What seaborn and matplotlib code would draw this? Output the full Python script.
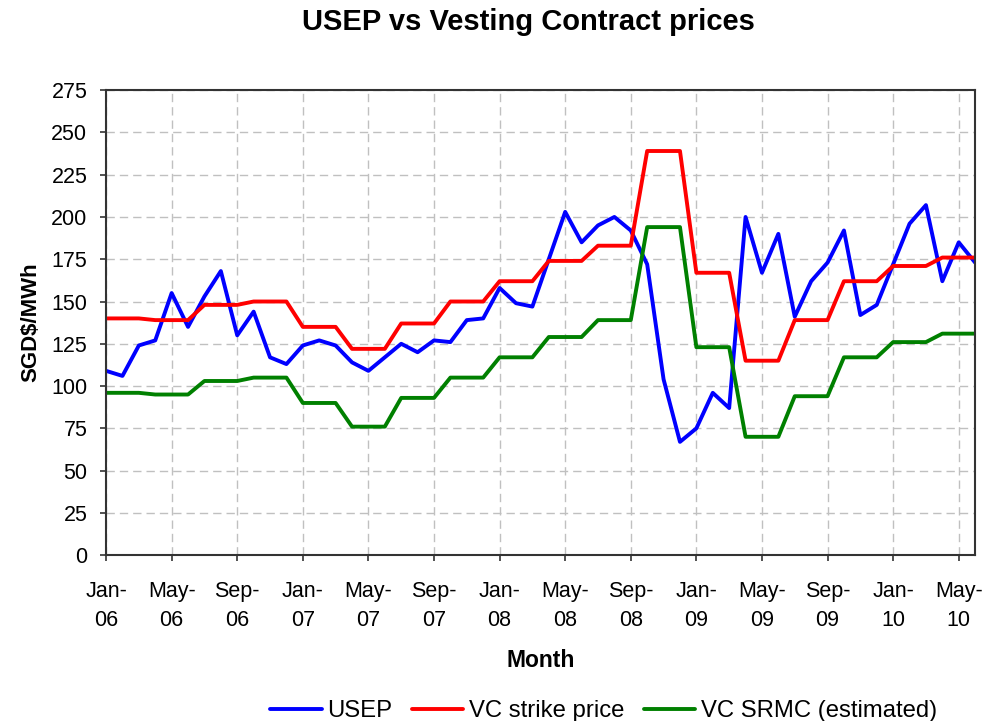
import numpy as np
import pandas as pd
import matplotlib
matplotlib.use("Agg")
import matplotlib.pyplot as plt
import seaborn as sns

# monthly data, Jan-06 .. Jun-10
months = pd.date_range("2006-01-01", "2010-06-01", freq="MS")

usep = [109, 106, 124, 127, 155, 135, 153, 168, 130, 144, 117, 113,
        124, 127, 124, 114, 109, 117, 125, 120, 127, 126, 139, 140,
        158, 149, 147, 175, 203, 185, 195, 200, 192, 172, 104, 67,
        75, 96, 87, 200, 167, 190, 141, 162, 173, 192, 142, 148,
        172, 196, 207, 162, 185, 173]

vc_strike = [140, 140, 140, 139, 139, 139, 148, 148, 148, 150, 150, 150,
             135, 135, 135, 122, 122, 122, 137, 137, 137, 150, 150, 150,
             162, 162, 162, 174, 174, 174, 183, 183, 183, 239, 239, 239,
             167, 167, 167, 115, 115, 115, 139, 139, 139, 162, 162, 162,
             171, 171, 171, 176, 176, 176]

vc_srmc = [96, 96, 96, 95, 95, 95, 103, 103, 103, 105, 105, 105,
           90, 90, 90, 76, 76, 76, 93, 93, 93, 105, 105, 105,
           117, 117, 117, 129, 129, 129, 139, 139, 139, 194, 194, 194,
           123, 123, 123, 70, 70, 70, 94, 94, 94, 117, 117, 117,
           126, 126, 126, 131, 131, 131]

series_names = ["USEP", "VC strike price", "VC SRMC (estimated)"]
colors = ["#0000ff", "#ff0000", "#008000"]

df = pd.DataFrame({"idx": np.arange(len(months)),
                   "USEP": usep,
                   "VC strike price": vc_strike,
                   "VC SRMC (estimated)": vc_srmc})
long_df = df.melt(id_vars="idx", var_name="series", value_name="price")

sns.set_style("white")
plt.rcParams['font.family'] = ['Liberation Sans', 'DejaVu Sans']
plt.rcParams['text.color'] = 'black'
plt.rcParams['axes.labelcolor'] = 'black'
plt.rcParams['xtick.color'] = 'black'
plt.rcParams['ytick.color'] = 'black'

fig = plt.figure(figsize=(9.82, 7.21), dpi=100)
ax = fig.add_axes([0.108, 0.230, 0.885, 0.645])

sns.lineplot(data=long_df, x="idx", y="price", hue="series",
             hue_order=series_names, palette=colors, linewidth=2.8, ax=ax)

tick_pos = np.arange(0, len(months), 4)
tick_labels = [months[i].strftime("%b-\n%y") for i in tick_pos]
ax.set_xticks(tick_pos)
ax.set_xticklabels(tick_labels, fontsize=15.5, linespacing=1.5)
ax.set_xlim(0, len(months) - 1)

ax.set_ylim(0, 275)
ax.set_yticks(np.arange(0, 276, 25))
ax.tick_params(axis="y", labelsize=15.5, length=4.5, width=1.2, color="#333333",
               left=True, pad=9)
ax.tick_params(axis="x", length=4.5, width=1.2, color="#333333", bottom=True, pad=14)

ax.grid(True, color="#c0c0c0", linestyle=(0, (6, 3.6)), linewidth=1.0)
for sp in ax.spines.values():
    sp.set_color("#333333")
    sp.set_linewidth(1.5)

ax.set_xlabel("Month", fontsize=16.5, fontweight="bold", labelpad=13)
ax.set_ylabel("SGD$/MWh", fontsize=16, fontweight="bold", labelpad=7)
fig.text(0.538, 0.969, "USEP vs Vesting Contract prices", fontsize=21,
         fontweight="bold", ha="center", va="center")

ax.legend(loc="center left", bbox_to_anchor=(0.263, 0.014),
          bbox_transform=fig.transFigure, ncol=3, frameon=False, borderpad=0,
          fontsize=17.2, handlelength=2.15, columnspacing=0.8, handletextpad=0.25)

fig.savefig("out.png", dpi=100)
